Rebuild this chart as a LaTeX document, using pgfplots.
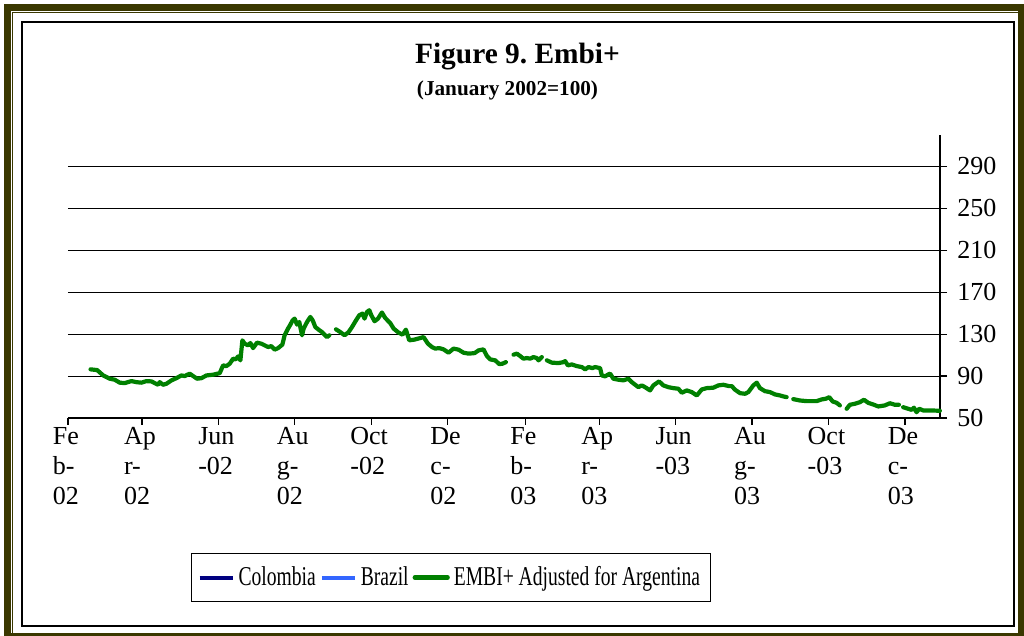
\documentclass[border=0pt]{standalone}
\usepackage{pgfplots}
\pgfplotsset{compat=1.18}
\usepackage{fontspec}
\setmainfont{Liberation Serif}
\frenchspacing
\definecolor{olivefr}{RGB}{58,56,0}
\definecolor{embigreen}{RGB}{0,128,0}
\definecolor{colnavy}{RGB}{0,0,128}
\definecolor{brblue}{RGB}{51,102,255}
\pgfplotstableread{
x y
18 96.4
23.3 95.7
28.1 90.6
33.3 87.5
37.3 86.5
41.3 83.7
45.3 83.3
50.6 85.2
54.6 84.2
58.6 83.7
62.6 85.2
66.6 84.9
69.2 83.3
71.9 81.7
73.2 84.2
75.9 81.7
78.6 82.7
82.6 85.9
86.5 88.0
90.5 90.6
93.2 90.0
97.1 92.3
99.9 90.0
103.0 87.5
106.5 88.0
110.5 90.6
115.8 91.3
121.1 92.8
123.8 100.2
126.4 99.5
129.1 101.8
131.8 106.6
133.8 105.9
135.8 108.8
137.6 105.0
139.2 124.1
141.0 120.9
143.7 119.3
145.6 121.5
147.7 116.7
150.9 121.9
154.3 120.9
157.0 119.3
159.7 117.7
162.3 118.6
164.9 115.2
167.7 116.7
171.1 120.0
172.9 128.9
175.6 135.3
177.5 139.1
179.3 143.2
180.9 144.8
182.8 139.1
184.6 141.6
186.8 128.9
188.1 135.3
190.8 141.6
193.4 146.4
195.3 143.2
197.4 136.8
200.0 134.3
202.7 132.0
206.7 127.2
208.6 128.9
211 nan
213.9 134.6
217.3 132.0
220.8 128.9
224.0 132.0
226.7 136.8
229.9 143.2
232.5 148.0
235.1 149.6
236.7 144.8
238.6 151.1
240.5 152.8
242.1 148.0
244.7 142.3
247.4 144.8
250.6 150.6
253.2 145.4
257.2 140.6
259.9 135.3
263.8 131.5
267.0 129.5
269.7 134.3
272.4 124.1
276.6 124.8
281.2 126.3
283.8 127.2
287.3 120.9
290.5 117.7
293.1 116.2
296.3 116.7
299.7 115.5
303.7 112.3
307.7 116.2
311.7 115.2
315.7 112.3
319.7 111.4
324.5 111.9
327.7 114.5
331.6 115.5
334.4 109.1
337.0 105.9
341.0 105.0
344.2 101.4
346.8 101.8
349.5 103.3
352 nan
355.6 110.4
358.3 111.4
360.9 109.1
363.5 106.6
366.3 107.2
368.9 106.6
371.5 108.1
374.2 107.2
375.5 105.0
378.2 108.1
380 nan
382.2 105.0
386.2 102.8
391.5 102.4
395.5 103.3
396.8 104.3
399.0 100.2
402.1 101.1
406.1 99.5
410.1 98.6
412.8 96.4
415.4 98.6
418.6 97.6
420.7 98.6
424.7 97.6
426.1 90.6
428.7 89.7
431.3 91.6
432.7 92.3
435.3 87.5
439.3 86.5
443.3 85.9
447.3 87.5
450.0 84.2
455.3 79.4
458.0 81.1
460.6 79.4
464.6 76.3
467.2 81.1
471.8 84.9
475.2 81.1
479.2 79.4
483.2 78.5
487.2 77.9
489.9 74.1
493.9 76.3
497.9 74.7
501.9 71.5
505.8 77.2
509.8 78.5
515.1 78.9
519.1 81.1
523.1 81.7
527.6 80.4
529.8 80.4
532.4 77.0
536.4 73.7
540.4 73.1
543.0 74.7
547.0 81.1
549.7 83.7
552.3 78.5
556.3 75.6
560.3 74.7
564.3 72.5
568.3 71.5
570.9 70.6
573.6 69.9
576 nan
578.9 68.0
584.2 66.7
589.6 66.1
597.6 66.1
601.5 67.7
605.0 68.4
607.6 69.9
610.3 65.8
613.5 64.5
616.1 62.0
619 nan
621.5 58.8
624.1 62.6
628.1 63.6
632.1 65.1
635.3 67.4
638.7 64.5
642.7 62.9
646.7 61.0
652.0 62.0
656.0 64.1
660.0 62.6
663.2 62.6
665 nan
666.6 60.3
670.6 58.8
673.3 57.8
675.2 59.8
677.3 55.5
679.4 58.8
682.6 57.2
688.0 57.2
695.9 56.9
}\embidata
\begin{document}
\begin{tikzpicture}[x=0.5pt,y=0.5pt]
\useasboundingbox (0,0) rectangle (1024,636);
% outer frame
\fill[olivefr] (4,0) rectangle (1024,632);
\fill[white] (11,3) rectangle (1018,625);
\draw[olivefr, line width=0.6pt] (12.5,1) -- (12.5,623.5) -- (1024,623.5);
\draw[black, line width=0.7pt] (22,10) rectangle (1014,614);
% titles
\node[anchor=base, font=\fontsize{14.7}{17}\selectfont\bfseries, inner sep=0pt] at (517.5,572) {Figure 9. Embi+};
\node[anchor=base, font=\fontsize{10.6}{12}\selectfont\bfseries, inner sep=0pt] at (507.5,540) {(January 2002=100)};
\begin{axis}[
  at={(34pt,109pt)}, anchor=south west,
  scale only axis, width=436pt, height=141.5pt,
  xmin=0, xmax=696, ymin=50, ymax=320,
  axis x line*=bottom, axis y line*=right,
  axis line style={black, line width=0.6pt},
  tick align=outside, major tick length=3.5pt,
  tick style={black, line width=0.6pt},
  ytick={50,90,130,170,210,250,290},
  ymajorgrids, grid style={black, line width=0.5pt},
  xtick={0,59,120,181,242,303,365,424,485,546,607,668},
  xticklabels={{Fe\\b-\\02},{Ap\\r-\\02},{Jun\\-02},{Au\\g-\\02},{Oct\\-02},{De\\c-\\02},{Fe\\b-\\03},{Ap\\r-\\03},{Jun\\-03},{Au\\g-\\03},{Oct\\-03},{De\\c-\\03}},
  xticklabel style={align=left, anchor=north, font=\fontsize{13}{15}\selectfont, inner sep=1pt, xshift=-1pt},
  yticklabel style={font=\fontsize{13}{15}\selectfont, inner sep=1pt, xshift=4pt},
  /pgf/number format/assume math mode=true,
  unbounded coords=jump,
  clip=false,
  legend style={at={(0.1411,-0.477)}, anchor=north west, draw=black, line width=0.5pt,
    font=\fontsize{13.6}{15}\selectfont\addfontfeatures{FakeStretch=0.72},
    legend columns=3, inner xsep=3pt, inner ysep=4.5pt,
    /tikz/every even column/.append style={column sep=0pt}},
  legend image code/.code={\draw[#1] (0pt,0pt) -- (16.5pt,0pt);},
]
\addlegendimage{colnavy, line width=2pt}
\addlegendentry{Colombia}
\addlegendimage{brblue, line width=2pt}
\addlegendentry{Brazil}
\addplot[embigreen, line width=2.1pt, line join=round, line cap=round] table[x=x,y=y] {\embidata};
\addlegendentry{EMBI+ Adjusted for Argentina}
\end{axis}
\end{tikzpicture}
\end{document}
